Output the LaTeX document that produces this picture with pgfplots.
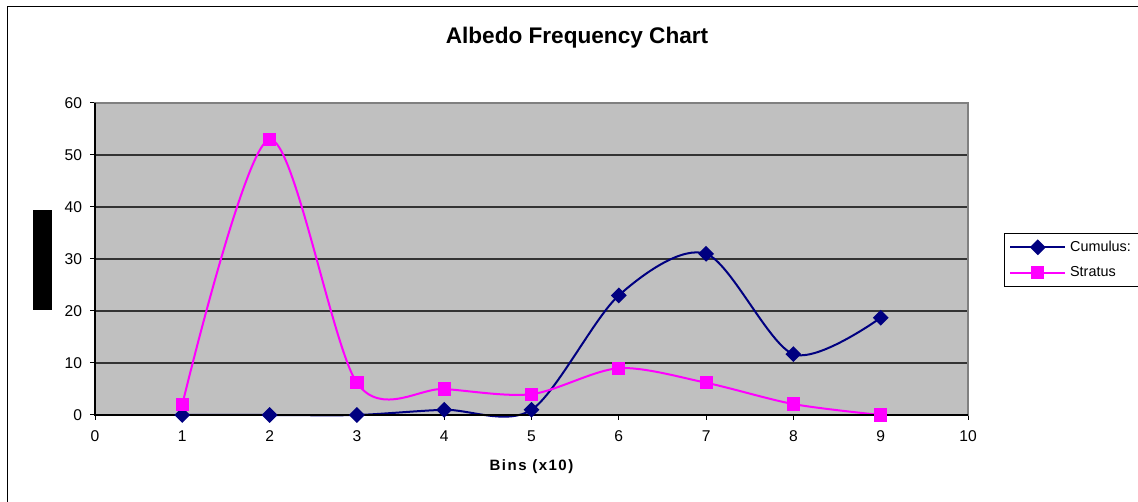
\documentclass[border=0pt]{standalone}
\usepackage{pgfplots}
\pgfplotsset{compat=1.18}
\usepackage{fontspec}
\setmainfont{Liberation Sans}
\definecolor{navyc}{HTML}{000080}
\definecolor{magc}{HTML}{FF00FF}
\definecolor{plotbg}{HTML}{C0C0C0}
\begin{document}
\begin{tikzpicture}
\useasboundingbox (0,0) rectangle (569pt,251pt);
\draw[black, line width=0.5pt] (3.5pt,247.5pt) rectangle (580pt,-10pt);
\fill[black] (16.5pt,96pt) rectangle (26pt,146pt);
\node[font=\fontsize{11.3}{13}\selectfont\bfseries] at (288.5pt,232pt) {Albedo Frequency Chart};
\begin{axis}[
  at={(47.5pt,43.5pt)}, anchor=south west,
  scale only axis, width=436.5pt, height=156pt,
  xmin=0, xmax=10, ymin=0, ymax=60,
  xtick={0,1,...,10}, ytick={0,10,...,60},
  tick align=outside, xtick pos=bottom, ytick pos=left,
  major tick length=2.5pt,
  tick style={black, line width=0.5pt},
  axis background/.style={fill=plotbg},
  axis line style={draw=gray, line width=0.8pt},
  ymajorgrids, grid style={black!80, line width=0.6pt},
  /pgf/number format/assume math mode=true,
  tick label style={font=\fontsize{7.8}{9}\selectfont},
  yticklabel style={xshift=-0.5pt},
  xticklabel style={yshift=-2pt},
  legend style={at={(1.0412,0.583)}, anchor=north west, draw=black, line width=0.5pt,
     font=\fontsize{7.2}{9}\selectfont, inner xsep=2.5pt, inner ysep=1.5pt, row sep=2pt, cells={anchor=west}},
  legend image code/.code={\draw[mark repeat=2,mark phase=2] plot coordinates {(0cm,0cm)(0.48cm,0cm)(0.96cm,0cm)};},
  clip=false,
]
\addplot[navyc, line width=1pt, smooth, tension=0.5, mark=square*, mark size=2.3pt, mark options={fill=navyc, rotate=45}] coordinates {
(1,0) (2,0) (3,0) (4,1) (5,1) (6,23) (7,31) (8,11.7) (9,18.7)};
\addlegendentry{Cumulus:}
\addplot[magc, line width=1pt, smooth, tension=0.5, mark=square*, mark size=2.8pt, mark options={fill=magc}] coordinates {
(1,2) (2,53) (3,6.2) (4,5) (5,4) (6,9) (7,6.2) (8,2.1) (9,0)};
\addlegendentry{Stratus}
\draw[black, line width=0.8pt] (rel axis cs:0,1) -- (rel axis cs:0,0) -- (rel axis cs:1,0);
\node[font=\fontsize{7.5}{9}\selectfont\bfseries\addfontfeature{LetterSpace=10}] at (axis description cs:0.5,-0.1667) {Bins (x10)};
\end{axis}
\end{tikzpicture}
\end{document}
